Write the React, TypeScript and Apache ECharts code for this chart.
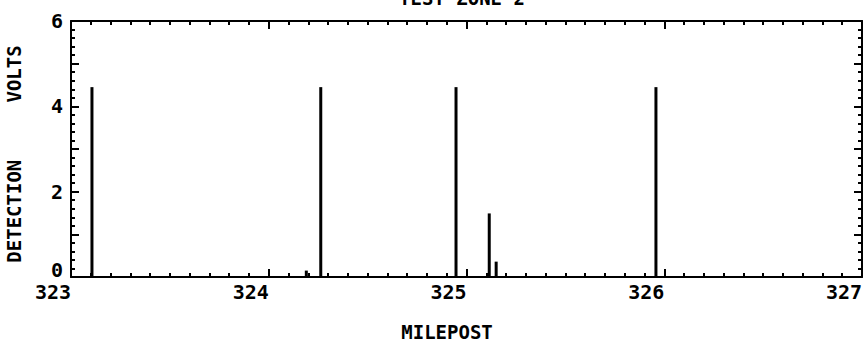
import React, { useEffect, useRef } from "react";
import * as echarts from "echarts";

const milepost = [323.106, 324.19, 324.263, 324.947, 325.115, 325.15, 325.958];
const volts = [4.45, 0.15, 4.45, 4.45, 1.49, 0.36, 4.45];
const xTicks = [323, 324, 325, 326, 327];
const yTicks = [0, 2, 4, 6];
const titleText = "TEST ZONE 2";
const xName = "MILEPOST";
const yName = "DETECTION     VOLTS";

const FONT = "DejaVu Sans Mono";

export default function App() {
  const ref = useRef<HTMLDivElement>(null);
  useEffect(() => {
    if (!ref.current) return;
    const chart = echarts.init(ref.current, undefined, { renderer: "svg" });
    const axisLineStyle = { color: "#000", width: 2 };
    const xCommon = {
      type: "value" as const,
      min: xTicks[0],
      max: xTicks[xTicks.length - 1],
      interval: 1,
      splitLine: { show: false },
      axisLine: { show: true, onZero: false, lineStyle: axisLineStyle },
      axisTick: { show: true, inside: true, length: 8, lineStyle: { color: "#000", width: 2 } },
      minorTick: { show: true, splitNumber: 10, length: 4, lineStyle: { color: "#000", width: 2 } },
    };
    const yCommon = {
      type: "value" as const,
      min: yTicks[0],
      max: yTicks[yTicks.length - 1],
      interval: 1,
      splitLine: { show: false },
      axisLine: { show: true, onZero: false, lineStyle: axisLineStyle },
      axisTick: { show: true, inside: true, length: 8, lineStyle: { color: "#000", width: 2 } },
      minorTick: { show: true, splitNumber: 5, length: 4, lineStyle: { color: "#000", width: 2 } },
    };
    chart.setOption({
      animation: false,
      backgroundColor: "#fff",
      grid: {
        left: 71,
        right: 4,
        top: 21,
        bottom: 65,
        containLabel: false,
        outerBoundsMode: "none",
      },
      graphic: [
        {
          type: "text",
          x: 462,
          y: -2,
          style: {
            text: titleText,
            fontFamily: FONT,
            fontWeight: "bold",
            fontSize: 19,
            fill: "#000",
            align: "center",
            verticalAlign: "middle",
          },
        },
        {
          type: "text",
          x: 447,
          y: 332,
          style: {
            text: xName,
            fontFamily: FONT,
            fontWeight: "bold",
            fontSize: 19,
            fill: "#000",
            align: "center",
            verticalAlign: "middle",
          },
        },
      ],
      xAxis: [
        {
          ...xCommon,
          position: "bottom",
          axisLabel: {
            show: true,
            align: "right",
            margin: 5,
            color: "#000",
            fontFamily: FONT,
            fontWeight: "bold",
            fontSize: 20,
            showMinLabel: true,
            showMaxLabel: true,
            formatter: (v: number) => (xTicks.includes(v) ? String(v) : ""),
          },
        },
        {
          ...xCommon,
          position: "top",
          axisLabel: { show: false },
        },
      ],
      yAxis: [
        {
          ...yCommon,
          position: "left",
          name: yName,
          nameLocation: "middle",
          nameRotate: 90,
          nameGap: 48,
          nameTextStyle: {
            color: "#000",
            fontFamily: FONT,
            fontWeight: "bold",
            fontSize: 19,
            padding: [0, 0, 0, -10],
          },
          axisLabel: {
            show: true,
            margin: 8,
            color: "#000",
            fontFamily: FONT,
            fontWeight: "bold",
            fontSize: 20,
            formatter: (v: number) =>
              yTicks.includes(v) ? (v === 0 ? "{z|0}" : String(v)) : "",
            rich: {
              z: {
                fontFamily: FONT,
                fontWeight: "bold",
                fontSize: 20,
                color: "#000",
                padding: [0, 0, 14, 0],
              },
            },
          },
        },
        {
          ...yCommon,
          position: "right",
          axisLabel: { show: false },
        },
      ],
      series: [
        {
          type: "bar",
          xAxisIndex: 0,
          yAxisIndex: 0,
          barWidth: 3,
          itemStyle: { color: "#000" },
          data: milepost.map((m, i) => [m, volts[i]]),
        },
      ],
    });
    return () => chart.dispose();
  }, []);
  return (
    <div
      ref={ref}
      style={{ position: "fixed", left: 0, top: 0, width: 866, height: 342 }}
    />
  );
}
